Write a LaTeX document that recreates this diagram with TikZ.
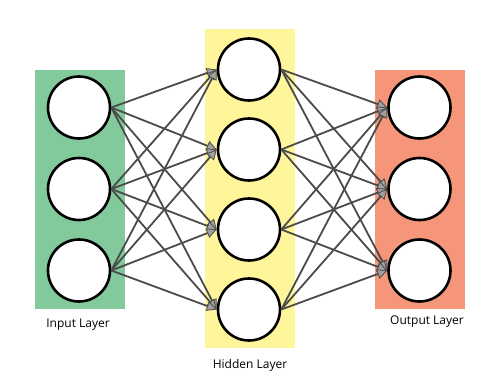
\documentclass[tikz,border=0pt]{standalone}
\usepackage{fontspec}
\setmainfont{Open Sans}
\usetikzlibrary{arrows.meta}
\definecolor{inputgreen}{RGB}{130,201,156}
\definecolor{hiddenyellow}{RGB}{255,245,155}
\definecolor{outputsalmon}{RGB}{245,150,122}
\definecolor{edgegray}{RGB}{75,75,75}
\definecolor{tipgray}{RGB}{160,160,160}
\begin{document}
\begin{tikzpicture}[x=1pt,y=-1pt,
  neuron/.style={circle,draw=black,line width=2.6pt,fill=white,minimum size=62pt,inner sep=0pt},
  layerlabel/.style={font=\fontsize{12}{14}\selectfont,inner sep=0pt},
  edge/.style={draw=edgegray,line width=1.8pt,
    -{Triangle[length=10pt,width=10pt,fill=tipgray,line width=0.8pt]}}]
  \useasboundingbox (0,0) rectangle (500,380);
  % layer backgrounds
  \fill[inputgreen] (35,70) rectangle (125,309);
  \fill[hiddenyellow] (205,29) rectangle (295,348);
  \fill[outputsalmon] (375,70) rectangle (465,309);
  % neurons
  \foreach \i/\y in {1/107.5,2/189,3/270.5}
    \node[neuron] (in\i) at (79,\y) {};
  \foreach \i/\y in {1/69.5,2/149.5,3/229.5,4/309.5}
    \node[neuron] (h\i) at (249,\y) {};
  \foreach \i/\y in {1/107.5,2/189,3/270.5}
    \node[neuron] (out\i) at (419.5,\y) {};
  % connections
  \foreach \i in {1,2,3}
    \foreach \j in {1,2,3,4}
      \draw[edge] (in\i.east) -- (h\j.west);
  \foreach \j in {1,2,3,4}
    \foreach \k in {1,2,3}
      \draw[edge] (h\j.east) -- (out\k.west);
  % labels
  \node[layerlabel] (lin) at (78,325) {Input Layer};
  \node[layerlabel] (lhid) at (250,365) {Hidden Layer};
  \node[layerlabel] (lout) at (427,322) {Output Layer};
\end{tikzpicture}
\end{document}
